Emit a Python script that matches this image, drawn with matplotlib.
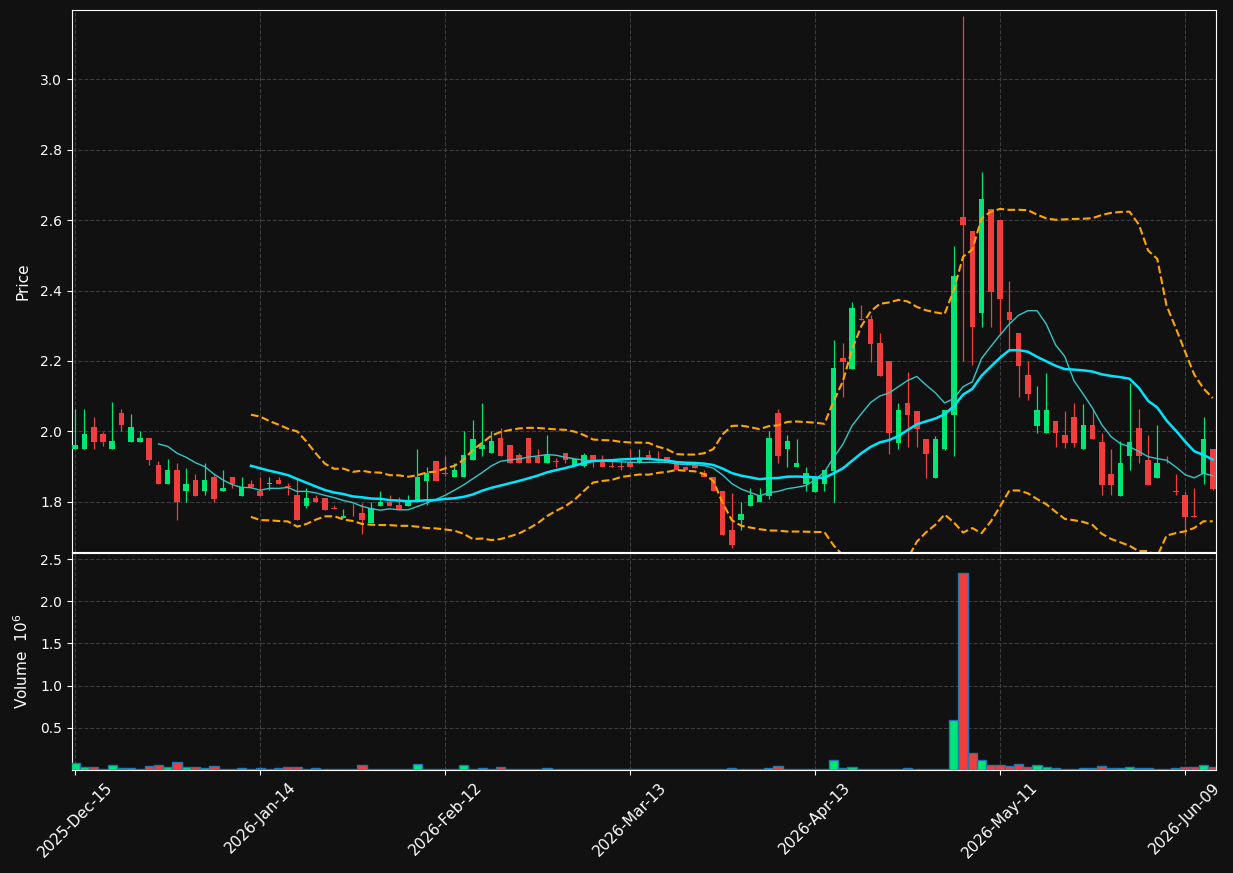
import matplotlib
matplotlib.use('Agg')
import matplotlib.pyplot as plt
import numpy as np
import pandas as pd

# daily OHLC (index = trading day)
opens = [1.950, 1.950, 2.012, 1.992, 1.950, 2.052, 1.970, 1.970, 1.981, 1.904,
         1.850, 1.892, 1.830, 1.861, 1.830, 1.871, 1.830, 1.871, 1.818, 1.852,
         1.832, 1.850, 1.861, 1.845, 1.821, 1.788, 1.810, 1.810, 1.783, 1.755,
         1.761, 1.770, 1.740, 1.788, 1.800, 1.790, 1.788, 1.800, 1.859, 1.916,
         1.881, 1.871, 1.871, 1.919, 1.950, 1.938, 1.981, 1.961, 1.932, 1.981,
         1.927, 1.910, 1.916, 1.940, 1.904, 1.902, 1.932, 1.912, 1.902, 1.902,
         1.912, 1.911, 1.932, 1.923, 1.927, 1.911, 1.900, 1.904, 1.883, 1.871,
         1.832, 1.721, 1.748, 1.788, 1.799, 1.818, 2.052, 1.950, 1.900, 1.850,
         1.828, 1.852, 1.888, 2.209, 2.177, 2.318, 2.319, 2.252, 2.200, 1.968,
         2.080, 2.058, 1.979, 1.869, 1.950, 2.047, 2.609, 2.569, 2.337, 2.630,
         2.600, 2.338, 2.279, 2.160, 2.016, 1.997, 2.030, 1.990, 2.042, 1.949,
         2.018, 1.970, 1.879, 1.818, 1.929, 2.011, 1.919, 1.869, 1.926, 1.830,
         1.820, 1.760, 1.878, 1.949]
highs = [2.064, 2.064, 2.040, 1.999, 2.083, 2.064, 2.051, 2.000, 1.981, 1.915,
         1.921, 1.911, 1.895, 1.880, 1.911, 1.878, 1.892, 1.871, 1.871, 1.861,
         1.871, 1.871, 1.871, 1.854, 1.864, 1.839, 1.819, 1.810, 1.790, 1.781,
         1.797, 1.797, 1.800, 1.831, 1.820, 1.813, 1.819, 1.951, 1.900, 1.916,
         1.930, 1.911, 2.000, 2.032, 2.080, 2.000, 2.011, 1.961, 1.938, 1.981,
         1.951, 1.991, 1.926, 1.940, 1.923, 1.940, 1.932, 1.932, 1.921, 1.916,
         1.950, 1.951, 1.947, 1.945, 1.927, 1.911, 1.902, 1.910, 1.892, 1.871,
         1.832, 1.826, 1.800, 1.840, 1.840, 2.000, 2.064, 1.991, 1.980, 1.900,
         1.871, 1.892, 2.260, 2.250, 2.368, 2.359, 2.330, 2.279, 2.200, 2.080,
         2.168, 2.058, 1.979, 1.988, 2.061, 2.527, 3.180, 2.569, 2.737, 2.630,
         2.600, 2.428, 2.279, 2.200, 2.128, 2.167, 2.030, 2.059, 2.080, 2.077,
         2.063, 1.997, 1.949, 1.974, 2.137, 2.064, 1.990, 2.018, 1.930, 1.880,
         1.829, 1.839, 2.040, 1.949]
lows = [1.950, 1.950, 1.951, 1.959, 1.950, 2.000, 1.970, 1.970, 1.905, 1.850,
        1.850, 1.748, 1.800, 1.818, 1.820, 1.799, 1.830, 1.839, 1.818, 1.840,
        1.818, 1.835, 1.850, 1.821, 1.748, 1.783, 1.799, 1.778, 1.780, 1.755,
        1.759, 1.710, 1.740, 1.788, 1.788, 1.781, 1.788, 1.800, 1.790, 1.859,
        1.873, 1.871, 1.871, 1.919, 1.930, 1.938, 1.930, 1.910, 1.910, 1.910,
        1.910, 1.910, 1.900, 1.910, 1.904, 1.900, 1.900, 1.900, 1.900, 1.892,
        1.900, 1.911, 1.919, 1.916, 1.917, 1.890, 1.890, 1.897, 1.871, 1.830,
        1.707, 1.669, 1.721, 1.788, 1.799, 1.809, 1.911, 1.900, 1.900, 1.830,
        1.828, 1.830, 1.799, 2.099, 2.177, 2.316, 2.198, 2.158, 1.936, 1.949,
        1.957, 1.957, 1.869, 1.869, 1.948, 1.930, 2.200, 2.189, 2.297, 2.297,
        2.274, 2.231, 2.099, 2.088, 1.997, 1.997, 1.957, 1.952, 1.957, 1.949,
        1.978, 1.820, 1.820, 1.818, 1.891, 1.910, 1.848, 1.869, 1.910, 1.820,
        1.702, 1.758, 1.850, 1.834]
closes = [1.961, 1.992, 1.970, 1.970, 1.972, 2.019, 2.012, 1.981, 1.919, 1.850,
          1.892, 1.799, 1.852, 1.818, 1.861, 1.807, 1.841, 1.850, 1.843, 1.843,
          1.818, 1.855, 1.850, 1.843, 1.748, 1.810, 1.799, 1.778, 1.780, 1.761,
          1.759, 1.748, 1.783, 1.800, 1.788, 1.781, 1.800, 1.871, 1.881, 1.859,
          1.879, 1.892, 1.932, 1.978, 1.961, 1.972, 1.930, 1.910, 1.910, 1.910,
          1.910, 1.932, 1.912, 1.919, 1.921, 1.932, 1.912, 1.900, 1.900, 1.900,
          1.900, 1.923, 1.919, 1.919, 1.917, 1.890, 1.892, 1.897, 1.871, 1.830,
          1.707, 1.678, 1.767, 1.820, 1.820, 1.981, 1.930, 1.972, 1.911, 1.881,
          1.871, 1.892, 2.180, 2.198, 2.350, 2.317, 2.249, 2.158, 1.995, 2.061,
          2.047, 2.007, 1.936, 1.979, 2.061, 2.441, 2.586, 2.297, 2.660, 2.397,
          2.376, 2.316, 2.186, 2.107, 2.061, 2.061, 1.997, 1.968, 1.968, 2.018,
          1.978, 1.848, 1.848, 1.911, 1.970, 1.929, 1.848, 1.911, 1.924, 1.828,
          1.758, 1.758, 1.979, 1.837]
# volume in millions
volumes = [0.086, 0.035, 0.039, 0.015, 0.063, 0.027, 0.027, 0.015, 0.051, 0.063,
           0.039, 0.098, 0.039, 0.039, 0.027, 0.051, 0.015, 0.015, 0.027, 0.015,
           0.027, 0.015, 0.027, 0.039, 0.039, 0.015, 0.027, 0.015, 0.015, 0.015,
           0.015, 0.063, 0.015, 0.015, 0.015, 0.015, 0.008, 0.074, 0.008, 0.015,
           0.015, 0.015, 0.063, 0.015, 0.027, 0.015, 0.039, 0.015, 0.015, 0.015,
           0.015, 0.027, 0.015, 0.008, 0.008, 0.015, 0.015, 0.015, 0.015, 0.015,
           0.015, 0.015, 0.015, 0.008, 0.015, 0.015, 0.008, 0.008, 0.015, 0.015,
           0.015, 0.027, 0.015, 0.008, 0.008, 0.027, 0.051, 0.015, 0.008, 0.008,
           0.008, 0.015, 0.122, 0.027, 0.039, 0.015, 0.015, 0.015, 0.015, 0.015,
           0.027, 0.008, 0.015, 0.015, 0.015, 0.595, 2.332, 0.204, 0.122, 0.063,
           0.063, 0.051, 0.074, 0.039, 0.063, 0.039, 0.027, 0.015, 0.015, 0.027,
           0.027, 0.051, 0.027, 0.027, 0.039, 0.027, 0.027, 0.015, 0.015, 0.027,
           0.039, 0.039, 0.063, 0.039]

tick_pos = [0, 20, 40, 60, 80, 100, 120]
tick_labels = ['2025-Dec-15', '2026-Jan-14', '2026-Feb-12', '2026-Mar-13',
               '2026-Apr-13', '2026-May-11', '2026-Jun-09']

bg = '#111111'
up = '#00e676'
down = '#f23d3d'

close = pd.Series(closes)
ma10 = close.rolling(10).mean()
ma20 = close.rolling(20).mean()
sd20 = close.rolling(20).std(ddof=0)
upper = ma20 + 2 * sd20
lower = ma20 - 2 * sd20

x = np.arange(len(closes))
o = np.array(opens)
c = np.array(closes)
colors = [up if cc >= oo else down for oo, cc in zip(opens, closes)]

fig = plt.figure(figsize=(12.33, 8.73), dpi=100, facecolor=bg)
W, H = 1233, 873
ax = fig.add_axes([72 / W, 1 - 552 / H, (1216 - 72) / W, 542 / H])
axv = fig.add_axes([72 / W, 1 - 770 / H, (1216 - 72) / W, 217 / H], sharex=ax)

# candles
ax.vlines(x, lows, highs, colors=colors, linewidth=0.9, zorder=2)
ax.bar(x, np.abs(c - o), 0.6, bottom=np.minimum(o, c), color=colors,
       linewidth=0, zorder=3)

# indicators
ax.plot(x, ma10, color='#33c6c6', lw=1.0, zorder=4)
ax.plot(x, ma20, color='#00e5ff', lw=1.8, zorder=5)
ax.plot(x, upper, color='#ffa500', lw=1.5, ls='--', zorder=5)
ax.plot(x, lower, color='#ffa500', lw=1.5, ls='--', zorder=5)

# volume
axv.bar(x, volumes, 1.0, color=colors, edgecolor='#1f77b4', linewidth=1.0,
        zorder=3)

ax.set_xlim(-0.35, 123.35)
ax.set_ylim(1.658, 3.196)
ax.set_yticks([1.8, 2.0, 2.2, 2.4, 2.6, 2.8, 3.0])
axv.set_ylim(0, 2.572)
axv.set_yticks([0.5, 1.0, 1.5, 2.0, 2.5])
axv.set_xticks(tick_pos)
axv.set_xticklabels(tick_labels, rotation=45)
ax.tick_params(labelbottom=False)

ax.set_ylabel('Price', color='white', fontsize=11, labelpad=7)
axv.set_ylabel('Volume  $10^{6}$', color='white', fontsize=11, labelpad=7)

for a in (ax, axv):
    a.set_facecolor(bg)
    for s in a.spines.values():
        s.set_color('white')
    a.tick_params(colors='white', labelsize=10)
    a.grid(True, color='#3c3c3c', linestyle='--', linewidth=0.8)
    a.set_axisbelow(True)
axv.tick_params(axis='x', labelsize=11)

fig.savefig('out.png', dpi=100, facecolor=bg)
